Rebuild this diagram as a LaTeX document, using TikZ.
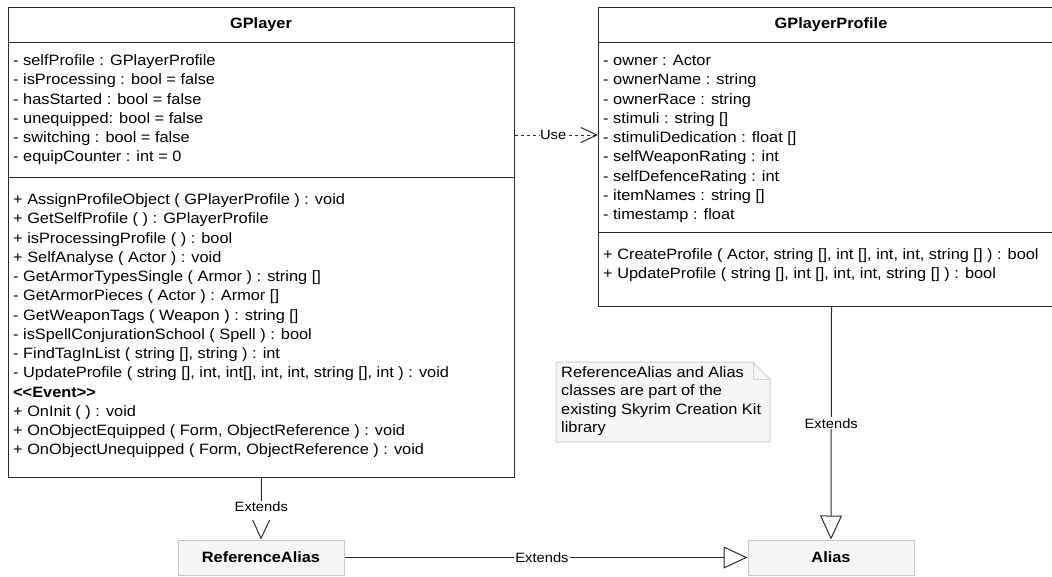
\documentclass[tikz,border=0pt]{standalone}
\usepackage{fontspec}
\setmainfont{Liberation Sans}[FakeStretch=1.09]
\usetikzlibrary{arrows.meta}
\definecolor{linec}{HTML}{2B2B2B}
\definecolor{libfill}{HTML}{F5F5F5}
\definecolor{libborder}{HTML}{C8C8C8}
\definecolor{notefill}{HTML}{F5F5F5}
\definecolor{noteborder}{HTML}{D2D2D2}
\begin{document}
\begin{tikzpicture}[x=1pt, y=-1pt,
  divider/.style={draw=linec, line width=1pt},
  classbox/.style={draw=linec, line width=1pt, fill=white, inner sep=0pt, anchor=north west},
  title/.style={font=\bfseries\fontsize{15}{18}\selectfont, inner sep=0pt},
  members/.style={font=\fontsize{15}{19.25}\selectfont, inner sep=0pt, anchor=base west},
  libbox/.style={draw=libborder, fill=libfill, line width=1pt, minimum width=166pt, minimum height=35pt, inner sep=0pt, font=\bfseries\fontsize{15}{18}\selectfont},
  lbl/.style={fill=white, inner sep=1pt, font=\fontsize{13.5}{15}\selectfont},
  extends/.style={draw=linec, line width=1pt, -{Triangle[open, length=24pt, width=22pt, fill=white]}},
  uses/.style={draw=linec, line width=1pt, dash pattern=on 3pt off 3pt, -{Straight Barb[length=16pt, width=15pt]}},
  notebox/.style={draw=noteborder, fill=notefill, line width=1pt},
  notefold/.style={draw=noteborder, line width=0.8pt},
  notetext/.style={font=\fontsize{15}{18.3}\selectfont, inner sep=0pt, anchor=base west},
]
\useasboundingbox (0,0) rectangle (1052,576);

% ---------- class GPlayer ----------
\node[classbox, minimum width=506pt, minimum height=470pt] (gplayer) at (8,7) {};
\coordinate (gpd1) at (0,42);
\coordinate (gpd2) at (0,177);
\draw[divider] (gplayer.west |- gpd1) -- (gplayer.east |- gpd1);
\draw[divider] (gplayer.west |- gpd2) -- (gplayer.east |- gpd2);
\node[title] (gplayerT) at (261,25) {GPlayer};
\node[members] (gplayerA) at (13,65.5) {\begin{tabular}[t]{@{}l@{}}
- selfProfile : GPlayerProfile\\
- isProcessing : bool = false\\
- hasStarted : bool = false\\
- unequipped: bool = false\\
- switching : bool = false\\
- equipCounter : int = 0
\end{tabular}};
\node[members] (gplayerM) at (13,204.5) {\begin{tabular}[t]{@{}l@{}}
+ AssignProfileObject ( GPlayerProfile ) : void\\
+ GetSelfProfile ( ) : GPlayerProfile\\
+ isProcessingProfile ( ) : bool\\
+ SelfAnalyse ( Actor ) : void\\
- GetArmorTypesSingle ( Armor ) : string []\\
- GetArmorPieces ( Actor ) : Armor []\\
- GetWeaponTags ( Weapon ) : string []\\
- isSpellConjurationSchool ( Spell ) : bool\\
- FindTagInList ( string [], string ) : int\\
- UpdateProfile ( string [], int, int[], int, int, string [], int ) : void\\
\textbf{<{}<Event>{}>}\\
+ OnInit ( ) : void\\
+ OnObjectEquipped ( Form, ObjectReference ) : void\\
+ OnObjectUnequipped ( Form, ObjectReference ) : void
\end{tabular}};

% ---------- class GPlayerProfile ----------
\node[classbox, minimum width=466pt, minimum height=299pt] (profile) at (598,7) {};
\coordinate (ppd1) at (0,42);
\coordinate (ppd2) at (0,232);
\draw[divider] (profile.west |- ppd1) -- (profile.east |- ppd1);
\draw[divider] (profile.west |- ppd2) -- (profile.east |- ppd2);
\node[title] (profileT) at (831,25) {GPlayerProfile};
\node[members] (profileA) at (603,65.5) {\begin{tabular}[t]{@{}l@{}}
- owner : Actor\\
- ownerName : string\\
- ownerRace : string\\
- stimuli : string []\\
- stimuliDedication : float []\\
- selfWeaponRating : int\\
- selfDefenceRating : int\\
- itemNames : string []\\
- timestamp : float
\end{tabular}};
\node[members] (profileM) at (603,259.5) {\begin{tabular}[t]{@{}l@{}}
+ CreateProfile ( Actor, string [], int [], int, int, string [] ) : bool\\
+ UpdateProfile ( string [], int [], int, int, string [] ) : bool
\end{tabular}};

% ---------- library classes ----------
\node[libbox] (refalias) at (261,557.5) {ReferenceAlias};
\node[libbox] (alias) at (831,557.5) {Alias};

% ---------- note ----------
\draw[notebox] (556,362) -- (753,362) -- (770,379) -- (770,442) -- (556,442) -- cycle;
\draw[notefold] (753,362) -- (753,379) -- (770,379);
\node[notetext] (note) at (561,377.5) {\begin{tabular}[t]{@{}l@{}}
ReferenceAlias and Alias\\
classes are part of the\\
existing Skyrim Creation Kit\\
library
\end{tabular}};

% ---------- relations ----------
\coordinate (useY) at (0,135);
\draw[uses] (gplayer.east |- useY) -- (profile.west |- useY)
  node[lbl, pos=0.46, inner xsep=0.5pt] {Use};
\draw[extends] (gplayer.south) -- (refalias.north)
  node[lbl, pos=0.365, anchor=north, inner ysep=0pt, text height=11pt, text depth=8pt] {Extends};
\draw[extends] (profile.south) -- (alias.north)
  node[lbl, midway] {Extends};
\draw[extends] (refalias.east) -- (alias.west)
  node[lbl, pos=0.49] {Extends};
\end{tikzpicture}
\end{document}
